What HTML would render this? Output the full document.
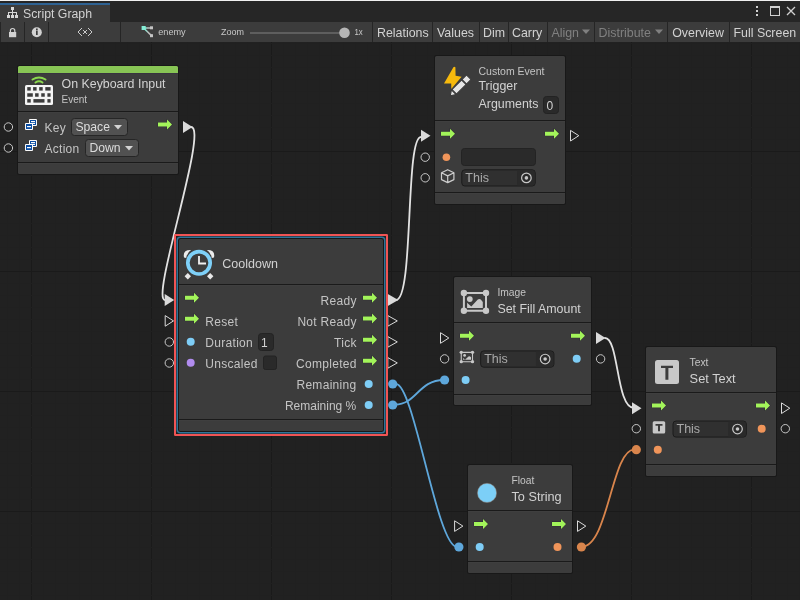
<!DOCTYPE html>
<html><head><meta charset="utf-8">
<style>
html,body{margin:0;padding:0;width:800px;height:600px;overflow:hidden;background:#202020;}
svg{display:block;position:absolute;left:0;top:0;}
text{font-family:"Liberation Sans",sans-serif;}
svg{will-change:transform;}
</style></head>
<body>
<svg width="800" height="600" viewBox="0 0 800 600">
<defs>
<pattern id="gmin" width="12" height="12" patternUnits="userSpaceOnUse" x="7" y="7">
<path d="M0 0.5H12M0.5 0V12" stroke="#1f1f1f" stroke-width="1" fill="none"/>
</pattern>
<pattern id="gmaj" width="120" height="120" patternUnits="userSpaceOnUse" x="31" y="31">
<path d="M0 0.5H120M0.5 0V120" stroke="#1a1a1a" stroke-width="1" fill="none"/>
</pattern>
</defs>
<rect x="0" y="42" width="800" height="558" fill="#212121"/>

<rect x="7" y="42" width="1" height="558" fill="#202020"/>
<rect x="19" y="42" width="1" height="558" fill="#202020"/>
<rect x="31" y="42" width="1" height="558" fill="#1a1a1a"/>
<rect x="43" y="42" width="1" height="558" fill="#202020"/>
<rect x="55" y="42" width="1" height="558" fill="#202020"/>
<rect x="67" y="42" width="1" height="558" fill="#202020"/>
<rect x="79" y="42" width="1" height="558" fill="#202020"/>
<rect x="91" y="42" width="1" height="558" fill="#202020"/>
<rect x="103" y="42" width="1" height="558" fill="#202020"/>
<rect x="115" y="42" width="1" height="558" fill="#202020"/>
<rect x="127" y="42" width="1" height="558" fill="#202020"/>
<rect x="139" y="42" width="1" height="558" fill="#202020"/>
<rect x="151" y="42" width="1" height="558" fill="#1a1a1a"/>
<rect x="163" y="42" width="1" height="558" fill="#202020"/>
<rect x="175" y="42" width="1" height="558" fill="#202020"/>
<rect x="187" y="42" width="1" height="558" fill="#202020"/>
<rect x="199" y="42" width="1" height="558" fill="#202020"/>
<rect x="211" y="42" width="1" height="558" fill="#202020"/>
<rect x="223" y="42" width="1" height="558" fill="#202020"/>
<rect x="235" y="42" width="1" height="558" fill="#202020"/>
<rect x="247" y="42" width="1" height="558" fill="#202020"/>
<rect x="259" y="42" width="1" height="558" fill="#202020"/>
<rect x="271" y="42" width="1" height="558" fill="#1a1a1a"/>
<rect x="283" y="42" width="1" height="558" fill="#202020"/>
<rect x="295" y="42" width="1" height="558" fill="#202020"/>
<rect x="307" y="42" width="1" height="558" fill="#202020"/>
<rect x="319" y="42" width="1" height="558" fill="#202020"/>
<rect x="331" y="42" width="1" height="558" fill="#202020"/>
<rect x="343" y="42" width="1" height="558" fill="#202020"/>
<rect x="355" y="42" width="1" height="558" fill="#202020"/>
<rect x="367" y="42" width="1" height="558" fill="#202020"/>
<rect x="379" y="42" width="1" height="558" fill="#202020"/>
<rect x="391" y="42" width="1" height="558" fill="#1a1a1a"/>
<rect x="403" y="42" width="1" height="558" fill="#202020"/>
<rect x="415" y="42" width="1" height="558" fill="#202020"/>
<rect x="427" y="42" width="1" height="558" fill="#202020"/>
<rect x="439" y="42" width="1" height="558" fill="#202020"/>
<rect x="451" y="42" width="1" height="558" fill="#202020"/>
<rect x="463" y="42" width="1" height="558" fill="#202020"/>
<rect x="475" y="42" width="1" height="558" fill="#202020"/>
<rect x="487" y="42" width="1" height="558" fill="#202020"/>
<rect x="499" y="42" width="1" height="558" fill="#202020"/>
<rect x="511" y="42" width="1" height="558" fill="#1a1a1a"/>
<rect x="523" y="42" width="1" height="558" fill="#202020"/>
<rect x="535" y="42" width="1" height="558" fill="#202020"/>
<rect x="547" y="42" width="1" height="558" fill="#202020"/>
<rect x="559" y="42" width="1" height="558" fill="#202020"/>
<rect x="571" y="42" width="1" height="558" fill="#202020"/>
<rect x="583" y="42" width="1" height="558" fill="#202020"/>
<rect x="595" y="42" width="1" height="558" fill="#202020"/>
<rect x="607" y="42" width="1" height="558" fill="#202020"/>
<rect x="619" y="42" width="1" height="558" fill="#202020"/>
<rect x="631" y="42" width="1" height="558" fill="#1a1a1a"/>
<rect x="643" y="42" width="1" height="558" fill="#202020"/>
<rect x="655" y="42" width="1" height="558" fill="#202020"/>
<rect x="667" y="42" width="1" height="558" fill="#202020"/>
<rect x="679" y="42" width="1" height="558" fill="#202020"/>
<rect x="691" y="42" width="1" height="558" fill="#202020"/>
<rect x="703" y="42" width="1" height="558" fill="#202020"/>
<rect x="715" y="42" width="1" height="558" fill="#202020"/>
<rect x="727" y="42" width="1" height="558" fill="#202020"/>
<rect x="739" y="42" width="1" height="558" fill="#202020"/>
<rect x="751" y="42" width="1" height="558" fill="#1a1a1a"/>
<rect x="763" y="42" width="1" height="558" fill="#202020"/>
<rect x="775" y="42" width="1" height="558" fill="#202020"/>
<rect x="787" y="42" width="1" height="558" fill="#202020"/>
<rect x="799" y="42" width="1" height="558" fill="#202020"/>
<rect x="0" y="43" width="800" height="1" fill="#202020"/>
<rect x="0" y="55" width="800" height="1" fill="#202020"/>
<rect x="0" y="67" width="800" height="1" fill="#202020"/>
<rect x="0" y="79" width="800" height="1" fill="#202020"/>
<rect x="0" y="91" width="800" height="1" fill="#202020"/>
<rect x="0" y="103" width="800" height="1" fill="#202020"/>
<rect x="0" y="115" width="800" height="1" fill="#202020"/>
<rect x="0" y="127" width="800" height="1" fill="#202020"/>
<rect x="0" y="139" width="800" height="1" fill="#202020"/>
<rect x="0" y="151" width="800" height="1" fill="#1a1a1a"/>
<rect x="0" y="163" width="800" height="1" fill="#202020"/>
<rect x="0" y="175" width="800" height="1" fill="#202020"/>
<rect x="0" y="187" width="800" height="1" fill="#202020"/>
<rect x="0" y="199" width="800" height="1" fill="#202020"/>
<rect x="0" y="211" width="800" height="1" fill="#202020"/>
<rect x="0" y="223" width="800" height="1" fill="#202020"/>
<rect x="0" y="235" width="800" height="1" fill="#202020"/>
<rect x="0" y="247" width="800" height="1" fill="#202020"/>
<rect x="0" y="259" width="800" height="1" fill="#202020"/>
<rect x="0" y="271" width="800" height="1" fill="#1a1a1a"/>
<rect x="0" y="283" width="800" height="1" fill="#202020"/>
<rect x="0" y="295" width="800" height="1" fill="#202020"/>
<rect x="0" y="307" width="800" height="1" fill="#202020"/>
<rect x="0" y="319" width="800" height="1" fill="#202020"/>
<rect x="0" y="331" width="800" height="1" fill="#202020"/>
<rect x="0" y="343" width="800" height="1" fill="#202020"/>
<rect x="0" y="355" width="800" height="1" fill="#202020"/>
<rect x="0" y="367" width="800" height="1" fill="#202020"/>
<rect x="0" y="379" width="800" height="1" fill="#202020"/>
<rect x="0" y="391" width="800" height="1" fill="#1a1a1a"/>
<rect x="0" y="403" width="800" height="1" fill="#202020"/>
<rect x="0" y="415" width="800" height="1" fill="#202020"/>
<rect x="0" y="427" width="800" height="1" fill="#202020"/>
<rect x="0" y="439" width="800" height="1" fill="#202020"/>
<rect x="0" y="451" width="800" height="1" fill="#202020"/>
<rect x="0" y="463" width="800" height="1" fill="#202020"/>
<rect x="0" y="475" width="800" height="1" fill="#202020"/>
<rect x="0" y="487" width="800" height="1" fill="#202020"/>
<rect x="0" y="499" width="800" height="1" fill="#202020"/>
<rect x="0" y="511" width="800" height="1" fill="#1a1a1a"/>
<rect x="0" y="523" width="800" height="1" fill="#202020"/>
<rect x="0" y="535" width="800" height="1" fill="#202020"/>
<rect x="0" y="547" width="800" height="1" fill="#202020"/>
<rect x="0" y="559" width="800" height="1" fill="#202020"/>
<rect x="0" y="571" width="800" height="1" fill="#202020"/>
<rect x="0" y="583" width="800" height="1" fill="#202020"/>
<rect x="0" y="595" width="800" height="1" fill="#202020"/>
<rect x="0" y="0" width="800" height="22" fill="#262626"/>
<rect x="0" y="0" width="800" height="1" fill="#f0f0f0"/>
<rect x="0" y="5" width="110" height="17" fill="#3c3c3c"/>
<rect x="0" y="3" width="110" height="2" fill="#2e6293"/>
<g fill="#d8d8d8"><rect x="11" y="7" width="3" height="3"/><rect x="12" y="10" width="1" height="3"/><rect x="8" y="12" width="9" height="1"/><rect x="8" y="12" width="1" height="3"/><rect x="12" y="12" width="1" height="3"/><rect x="16" y="12" width="1" height="3"/><rect x="7" y="15" width="3" height="3"/><rect x="11" y="15" width="3" height="3"/><rect x="15" y="15" width="3" height="3"/></g>
<text x="23" y="18" font-size="12.3" fill="#d2d2d2">Script Graph</text>
<g fill="#d0d0d0"><rect x="756" y="6" width="2" height="2"/><rect x="756" y="10" width="2" height="2"/><rect x="756" y="14" width="2" height="2"/></g>
<rect x="770.5" y="6.5" width="9" height="9" fill="none" stroke="#d0d0d0" stroke-width="1"/><rect x="770" y="6" width="10" height="2" fill="#d0d0d0"/>
<path d="M787 7L795 15M795 7L787 15" stroke="#d0d0d0" stroke-width="1.3"/>
<rect x="0" y="22" width="800" height="20" fill="#3c3c3c"/>
<rect x="0" y="22" width="1" height="20" fill="#252525"/>
<rect x="24" y="22" width="1" height="20" fill="#252525"/>
<rect x="48" y="22" width="1" height="20" fill="#252525"/>
<rect x="120" y="22" width="1" height="20" fill="#252525"/>
<rect x="372" y="22" width="1" height="20" fill="#252525"/>
<rect x="432" y="22" width="1" height="20" fill="#252525"/>
<rect x="479" y="22" width="1" height="20" fill="#252525"/>
<rect x="508" y="22" width="1" height="20" fill="#252525"/>
<rect x="547" y="22" width="1" height="20" fill="#252525"/>
<rect x="594" y="22" width="1" height="20" fill="#252525"/>
<rect x="667" y="22" width="1" height="20" fill="#252525"/>
<rect x="729" y="22" width="1" height="20" fill="#252525"/>
<path d="M10.4 32.5V30.7A2.2 2.2 0 0 1 14.8 30.7V32.5" fill="none" stroke="#d2d2d2" stroke-width="1.2"/><rect x="9" y="32" width="7.2" height="5.2" fill="#d2d2d2"/>
<circle cx="36.8" cy="32.3" r="5" fill="#d2d2d2"/><rect x="36" y="30.5" width="1.7" height="4.5" fill="#3c3c3c"/><rect x="36" y="28.5" width="1.7" height="1.5" fill="#3c3c3c"/>
<g fill="#cccccc"><rect x="81" y="28" width="1" height="1"/><rect x="80" y="29" width="1" height="1"/><rect x="79" y="30" width="1" height="1"/><rect x="78" y="31" width="1" height="1"/><rect x="78" y="32" width="1" height="1"/><rect x="79" y="33" width="1" height="1"/><rect x="80" y="34" width="1" height="1"/><rect x="81" y="35" width="1" height="1"/><rect x="88" y="28" width="1" height="1"/><rect x="89" y="29" width="1" height="1"/><rect x="90" y="30" width="1" height="1"/><rect x="91" y="31" width="1" height="1"/><rect x="91" y="32" width="1" height="1"/><rect x="90" y="33" width="1" height="1"/><rect x="89" y="34" width="1" height="1"/><rect x="88" y="35" width="1" height="1"/><rect x="83" y="30" width="1" height="1"/><rect x="86" y="30" width="1" height="1"/><rect x="83" y="33" width="1" height="1"/><rect x="86" y="33" width="1" height="1"/><rect x="84" y="31" width="2" height="2"/></g>
<defs><linearGradient id="eg" x1="0" y1="0" x2="1" y2="0"><stop offset="0.2" stop-color="#7fe6cf"/><stop offset="0.6" stop-color="#bdbdbd"/></linearGradient></defs><path d="M143.6 28H151.5M143.6 28L151.5 35.6" stroke="url(#eg)" stroke-width="1.5"/><rect x="150" y="26.3" width="3" height="3" fill="#c4c4c4"/><rect x="150" y="34.2" width="3" height="3" fill="#c4c4c4"/><rect x="141.6" y="26" width="4.1" height="4" fill="#85eed6"/>
<text x="158.2" y="34.7" font-size="9.5" fill="#c8c8c8" textLength="27.5" lengthAdjust="spacingAndGlyphs">enemy</text>
<text x="221" y="34.6" font-size="9.5" fill="#c8c8c8" textLength="23" lengthAdjust="spacingAndGlyphs">Zoom</text>
<rect x="250" y="32" width="94" height="2" fill="#5e5e5e"/><circle cx="344.5" cy="32.7" r="5.3" fill="#b5b5b5"/>
<text x="354.5" y="34.6" font-size="9.5" fill="#c8c8c8" textLength="8.3" lengthAdjust="spacingAndGlyphs">1x</text>
<text x="377" y="36.6" font-size="12.4" fill="#d2d2d2">Relations</text>
<text x="437" y="36.6" font-size="12.4" fill="#d2d2d2">Values</text>
<text x="483" y="36.6" font-size="12.4" fill="#d2d2d2">Dim</text>
<text x="512" y="36.6" font-size="12.4" fill="#d2d2d2">Carry</text>
<text x="551.4" y="36.6" font-size="12.4" fill="#808080">Align</text>
<text x="598.6" y="36.6" font-size="12.4" fill="#808080">Distribute</text>
<text x="672.2" y="36.6" font-size="12.4" fill="#d2d2d2">Overview</text>
<text x="733.5" y="36.6" font-size="12.4" fill="#d2d2d2">Full Screen</text>
<path d="M582 29.5H590L586 34Z" fill="#808080"/><path d="M655 29.5H663L659 34Z" fill="#808080"/>
<path d="M191 127C209 127 150 300 165 300" fill="none" stroke="#e2e2e2" stroke-width="1.8" stroke-linecap="round"/>
<path d="M396 300C414 300 405 137 421 137" fill="none" stroke="#e2e2e2" stroke-width="1.8" stroke-linecap="round"/>
<path d="M605 338C619 338 616 408 634 408" fill="none" stroke="#e2e2e2" stroke-width="1.8" stroke-linecap="round"/>
<path d="M396 384C414 384 437 547 457 547" fill="none" stroke="#5ea7db" stroke-width="1.8" stroke-linecap="round"/>
<path d="M395 404.5C417 404.5 418 380 444 380" fill="none" stroke="#5ea7db" stroke-width="1.8" stroke-linecap="round"/>
<path d="M582 546.6C608 546.6 612 449.6 634 449.6" fill="none" stroke="#d9854c" stroke-width="1.8" stroke-linecap="round"/>
<circle cx="392.7" cy="384" r="4.6" fill="#5ea7db"/>
<circle cx="392.7" cy="405" r="4.6" fill="#5ea7db"/>
<circle cx="444.6" cy="380" r="4.6" fill="#5ea7db"/>
<circle cx="458.9" cy="547" r="4.6" fill="#5ea7db"/>
<circle cx="581.4" cy="547" r="4.6" fill="#d9854c"/>
<circle cx="636.3" cy="449.7" r="4.6" fill="#d9854c"/>
<rect x="17" y="65" width="162" height="110" rx="2.5" fill="#181818"/>
<rect x="18" y="66" width="160" height="108" rx="1.5" fill="#3c3c3c"/>
<rect x="18" y="111" width="160" height="1" fill="#1a1a1a"/>
<rect x="18" y="112" width="160" height="1" fill="#3f3f3f"/>
<rect x="18" y="162" width="160" height="1" fill="#1a1a1a"/>
<rect x="18" y="163" width="160" height="1" fill="#3f3f3f"/>
<path d="M18 67.5A1.5 1.5 0 0 1 19.5 66H176.5A1.5 1.5 0 0 1 178 67.5V73H18Z" fill="#88c555"/><rect x="18" y="73" width="160" height="1" fill="#38343f"/>
<rect x="25" y="85" width="28" height="20" rx="1.5" fill="#f4f4f4"/>
<g fill="#3c3c3c">
<rect x="27.25" y="87.1" width="3.50" height="3.5"/>
<rect x="33.1" y="87.1" width="3.50" height="3.5"/>
<rect x="39.2" y="87.1" width="3.50" height="3.5"/>
<rect x="45.3" y="87.1" width="5.30" height="3.5"/>
<rect x="27.25" y="93.25" width="5.55" height="3.5"/>
<rect x="35.1" y="93.25" width="3.50" height="3.5"/>
<rect x="41.25" y="93.25" width="3.50" height="3.5"/>
<rect x="47.4" y="93.25" width="3.20" height="3.5"/>
<rect x="27.25" y="99.1" width="3.50" height="3.5"/>
<rect x="33.4" y="99.1" width="11.10" height="3.5"/>
<rect x="47.4" y="99.1" width="3.20" height="3.5"/>
</g>
<path d="M32.5 79.5Q39 75.5 45.5 79.5M35.5 82.5Q39 80.2 42.5 82.5" fill="none" stroke="#8bd84e" stroke-width="2" stroke-linecap="round"/>
<text x="61.5" y="88" font-size="12.4" fill="#d2d2d2">On Keyboard Input</text>
<text x="61.5" y="103" font-size="10" fill="#c4c4c4">Event</text>
<circle cx="8.4" cy="127" r="4.2" fill="none" stroke="#c8c8c8" stroke-width="1"/>
<g transform="translate(0,0)"><rect x="29" y="119" width="8" height="7" rx="1" fill="#fbfbfb"/><rect x="30" y="120" width="6" height="5" fill="#0b4ea4"/><rect x="31" y="121" width="4" height="1.2" fill="#fbfbfb"/><rect x="31" y="123" width="4" height="1" fill="#fbfbfb"/><rect x="25" y="123" width="8" height="7" rx="1" fill="#fbfbfb"/><rect x="26" y="124" width="6" height="5" fill="#0b4ea4"/><rect x="27" y="126" width="4" height="1.2" fill="#fbfbfb"/></g>
<circle cx="8.4" cy="148" r="4.2" fill="none" stroke="#c8c8c8" stroke-width="1"/>
<g transform="translate(0,21)"><rect x="29" y="119" width="8" height="7" rx="1" fill="#fbfbfb"/><rect x="30" y="120" width="6" height="5" fill="#0b4ea4"/><rect x="31" y="121" width="4" height="1.2" fill="#fbfbfb"/><rect x="31" y="123" width="4" height="1" fill="#fbfbfb"/><rect x="25" y="123" width="8" height="7" rx="1" fill="#fbfbfb"/><rect x="26" y="124" width="6" height="5" fill="#0b4ea4"/><rect x="27" y="126" width="4" height="1.2" fill="#fbfbfb"/></g>
<text x="44.4" y="132.3" font-size="12" fill="#c4c4c4" letter-spacing="0.3">Key</text>
<text x="44.4" y="152.8" font-size="12" fill="#c4c4c4" letter-spacing="0.3">Action</text>
<rect x="71.5" y="118.5" width="56" height="17" rx="3" fill="#515151" stroke="#262626" stroke-width="1"/>
<text x="75.4" y="131" font-size="12.2" fill="#dcdcdc">Space</text>
<path d="M114 125H122L118 129.6Z" fill="#d4d4d4"/>
<rect x="85.5" y="139.5" width="53" height="17" rx="3" fill="#515151" stroke="#262626" stroke-width="1"/>
<text x="89.4" y="152" font-size="12.2" fill="#dcdcdc">Down</text>
<path d="M125 146H133L129 150.6Z" fill="#d4d4d4"/>
<path d="M158 122.5H167V119.5L172 124.5L167 129.5V126.5H158Z" fill="#a3f45a" stroke="#262230" stroke-width="0.7" stroke-opacity="0.8" paint-order="stroke"/>
<path d="M183 121L192.5 127L183 133Z" fill="#dadada"/>
<rect x="434" y="55" width="132" height="150" rx="2.5" fill="#181818"/>
<rect x="435" y="56" width="130" height="148" rx="1.5" fill="#3c3c3c"/>
<rect x="435" y="120" width="130" height="1" fill="#1a1a1a"/>
<rect x="435" y="121" width="130" height="1" fill="#3f3f3f"/>
<rect x="435" y="192" width="130" height="1" fill="#1a1a1a"/>
<rect x="435" y="193" width="130" height="1" fill="#3f3f3f"/>
<path d="M453.4 67.2Q454.3 66.4 455.4 67.3L455.6 75.8L461.6 76.8L451.3 88.9L451.2 83.6L444 83.4Z" fill="#f6b90d"/>
<g transform="translate(459.6,86.4) rotate(-45)" fill="#e6e6e6" stroke="#3c3c3c" stroke-width="1.1"><path d="M-13.2 0L-8.2 -3.3V3.3Z"/><rect x="-7.6" y="-3.2" width="13.6" height="6.4"/><rect x="6.6" y="-3.2" width="6.4" height="6.4"/></g>
<text x="478.5" y="74.8" font-size="10.5" fill="#c4c4c4">Custom Event</text>
<text x="478.5" y="90.4" font-size="12.4" fill="#d2d2d2">Trigger</text>
<text x="478.5" y="107.8" font-size="12.4" fill="#d2d2d2">Arguments</text>
<rect x="543.5" y="96.5" width="15" height="17" rx="3" fill="#2a2a2a" stroke="#232323"/>
<text x="546.5" y="110" font-size="12" fill="#d2d2d2">0</text>
<path d="M441 131.7H450V128.7L455 133.7L450 138.7V135.7H441Z" fill="#a3f45a" stroke="#262230" stroke-width="0.7" stroke-opacity="0.8" paint-order="stroke"/>
<path d="M545 131.7H554V128.7L559 133.7L554 138.7V135.7H545Z" fill="#a3f45a" stroke="#262230" stroke-width="0.7" stroke-opacity="0.8" paint-order="stroke"/>
<path d="M421 129.7L430.5 135.7L421 141.7Z" fill="#dadada"/>
<path d="M570.5 130.39999999999998L578.8 135.7L570.5 141.0Z" fill="none" stroke="#dadada" stroke-width="1"/>
<circle cx="425.2" cy="157.2" r="4.2" fill="none" stroke="#c8c8c8" stroke-width="1"/>
<circle cx="425.2" cy="177.8" r="4.2" fill="none" stroke="#c8c8c8" stroke-width="1"/>
<circle cx="446.4" cy="157.2" r="3.8" fill="#f0955a"/>
<rect x="461.5" y="148.5" width="74" height="17" rx="3" fill="#2a2a2a" stroke="#232323"/>
<path d="M447.7 169.7L453.9 172.8V179.6L447.7 182.6L441.5 179.6V172.8Z M441.5 172.8L447.7 175.9L453.9 172.8 M447.7 175.9V182.6" fill="none" stroke="#cdcdcd" stroke-width="1.2" stroke-linejoin="round"/>
<rect x="461.8" y="169.8" width="73.40000000000003" height="16.19999999999999" rx="3" fill="#303030" stroke="#1b1b1b" stroke-width="1"/>
<path d="M517.1 170.3H532.7Q534.7 170.3 534.7 172.3V183.5Q534.7 185.5 532.7 185.5H517.1Z" fill="#2a2a2a"/>
<text x="465.3" y="181.5" font-size="12.5" fill="#a9a9a9">This</text>
<circle cx="526.4000000000001" cy="177.9" r="4.8" fill="none" stroke="#c8c8c8" stroke-width="1.2"/>
<circle cx="526.4000000000001" cy="177.9" r="1.8" fill="#c8c8c8"/>
<rect x="178" y="238" width="206" height="194" rx="2.5" fill="#181818"/>
<rect x="179" y="239" width="204" height="192" rx="1.5" fill="#3c3c3c"/>
<rect x="179" y="284" width="204" height="1" fill="#1a1a1a"/>
<rect x="179" y="285" width="204" height="1" fill="#3f3f3f"/>
<rect x="179" y="419" width="204" height="1" fill="#1a1a1a"/>
<rect x="179" y="420" width="204" height="1" fill="#3f3f3f"/>
<circle cx="199" cy="262.8" r="11.2" fill="none" stroke="#7ed0f8" stroke-width="3.7"/>
<path d="M199 256V263.5H206" fill="none" stroke="#f0f0f0" stroke-width="1.8"/>
<path d="M184 257.6Q182.4 249.8 191.1 250.1Q187 252.6 186.2 258Z" fill="#ececec"/>
<path d="M214 257.6Q215.6 249.8 206.9 250.1Q211 252.6 211.8 258Z" fill="#ececec"/>
<path d="M187.8 273L191 276.2L187.8 279.4L184.6 276.2Z" fill="#e8e8e8"/>
<path d="M210.2 273L213.4 276.2L210.2 279.4L207 276.2Z" fill="#e8e8e8"/>
<text x="222.3" y="268" font-size="12.5" fill="#d2d2d2">Cooldown</text>
<path d="M185 295.7H194V292.7L199 297.7L194 302.7V299.7H185Z" fill="#a3f45a" stroke="#262230" stroke-width="0.7" stroke-opacity="0.8" paint-order="stroke"/>
<path d="M185 316.7H194V313.7L199 318.7L194 323.7V320.7H185Z" fill="#a3f45a" stroke="#262230" stroke-width="0.7" stroke-opacity="0.8" paint-order="stroke"/>
<text x="205.3" y="325.8" font-size="12" fill="#c4c4c4" letter-spacing="0.3">Reset</text>
<circle cx="190.7" cy="341.7" r="4" fill="#7ecdf6"/>
<text x="205.3" y="346.7" font-size="12" fill="#c4c4c4" letter-spacing="0.3">Duration</text>
<rect x="258.5" y="333.5" width="15" height="17" rx="3" fill="#2a2a2a" stroke="#232323"/>
<text x="261" y="347" font-size="12" fill="#d2d2d2">1</text>
<circle cx="190.7" cy="362.7" r="4" fill="#b18cef"/>
<text x="205.3" y="367.5" font-size="12" fill="#c4c4c4" letter-spacing="0.3">Unscaled</text>
<rect x="263.5" y="356" width="13" height="13.5" rx="2" fill="#2a2a2a" stroke="#232323"/>
<text x="356.8" y="305.4" font-size="12" fill="#c4c4c4" text-anchor="end" letter-spacing="0.3">Ready</text>
<path d="M363 295.7H372V292.7L377 297.7L372 302.7V299.7H363Z" fill="#a3f45a" stroke="#262230" stroke-width="0.7" stroke-opacity="0.8" paint-order="stroke"/>
<text x="356.8" y="326.2" font-size="12" fill="#c4c4c4" text-anchor="end" letter-spacing="0.3">Not Ready</text>
<path d="M363 316.5H372V313.5L377 318.5L372 323.5V320.5H363Z" fill="#a3f45a" stroke="#262230" stroke-width="0.7" stroke-opacity="0.8" paint-order="stroke"/>
<text x="356.8" y="347.4" font-size="12" fill="#c4c4c4" text-anchor="end" letter-spacing="0.3">Tick</text>
<path d="M363 337.7H372V334.7L377 339.7L372 344.7V341.7H363Z" fill="#a3f45a" stroke="#262230" stroke-width="0.7" stroke-opacity="0.8" paint-order="stroke"/>
<text x="356.8" y="368.4" font-size="12" fill="#c4c4c4" text-anchor="end" letter-spacing="0.3">Completed</text>
<path d="M363 358.7H372V355.7L377 360.7L372 365.7V362.7H363Z" fill="#a3f45a" stroke="#262230" stroke-width="0.7" stroke-opacity="0.8" paint-order="stroke"/>
<text x="356.5" y="388.7" font-size="12" fill="#c4c4c4" text-anchor="end" letter-spacing="0.3">Remaining</text>
<text x="356.3" y="409.5" font-size="12" fill="#c4c4c4" text-anchor="end">Remaining %</text>
<circle cx="368.7" cy="384" r="4" fill="#7ecdf6"/>
<circle cx="368.7" cy="405" r="4" fill="#7ecdf6"/>
<path d="M164.7 294L174.2 300L164.7 306Z" fill="#dadada"/>
<path d="M165.2 315.59999999999997L173.5 320.9L165.2 326.2Z" fill="none" stroke="#dadada" stroke-width="1"/>
<circle cx="169.3" cy="342" r="4.2" fill="none" stroke="#c8c8c8" stroke-width="1"/>
<circle cx="169.3" cy="363" r="4.2" fill="none" stroke="#c8c8c8" stroke-width="1"/>
<path d="M387.8 294L398.3 300L387.8 306Z" fill="#dadada"/>
<path d="M387.8 315.59999999999997L397.3 320.9L387.8 326.2Z" fill="none" stroke="#dadada" stroke-width="1"/>
<path d="M387.8 336.59999999999997L397.3 341.9L387.8 347.2Z" fill="none" stroke="#dadada" stroke-width="1"/>
<path d="M387.8 357.59999999999997L397.3 362.9L387.8 368.2Z" fill="none" stroke="#dadada" stroke-width="1"/>
<rect x="175" y="235" width="212" height="200" rx="0.3" fill="none" stroke="#f05454" stroke-width="2"/>
<rect x="177.25" y="237.25" width="207.5" height="195.5" rx="3" fill="none" stroke="#2f7499" stroke-width="1.5"/>
<rect x="453" y="276" width="139" height="130" rx="2.5" fill="#181818"/>
<rect x="454" y="277" width="137" height="128" rx="1.5" fill="#3c3c3c"/>
<rect x="454" y="322" width="137" height="1" fill="#1a1a1a"/>
<rect x="454" y="323" width="137" height="1" fill="#3f3f3f"/>
<rect x="454" y="394" width="137" height="1" fill="#1a1a1a"/>
<rect x="454" y="395" width="137" height="1" fill="#3f3f3f"/>
<g fill="#c8c8c8"><path d="M463.9 292.9H486V310.8H463.9Z" fill="none" stroke="#c8c8c8" stroke-width="2"/><circle cx="463.9" cy="292.9" r="3.2"/><circle cx="486" cy="292.9" r="3.2"/><circle cx="463.9" cy="310.8" r="3.2"/><circle cx="486" cy="310.8" r="3.2"/><circle cx="469.8" cy="299.1" r="2.9"/><path d="M467.1 302.8L471.3 306.5L477.8 299.6Q479.3 298.2 480.8 299.6L482.8 302V307.9H467.1Z"/></g>
<text x="497.4" y="296" font-size="10.3" fill="#c4c4c4">Image</text>
<text x="497.4" y="313" font-size="12.4" fill="#d2d2d2">Set Fill Amount</text>
<path d="M460 333.7H469V330.7L474 335.7L469 340.7V337.7H460Z" fill="#a3f45a" stroke="#262230" stroke-width="0.7" stroke-opacity="0.8" paint-order="stroke"/>
<path d="M571 333.7H580V330.7L585 335.7L580 340.7V337.7H571Z" fill="#a3f45a" stroke="#262230" stroke-width="0.7" stroke-opacity="0.8" paint-order="stroke"/>
<path d="M440.5 332.7L448.8 338L440.5 343.3Z" fill="none" stroke="#dadada" stroke-width="1"/>
<path d="M596 332L605.5 338L596 344Z" fill="#dadada"/>
<circle cx="444.6" cy="358.9" r="4.2" fill="none" stroke="#c8c8c8" stroke-width="1"/>
<circle cx="600.6" cy="358.9" r="4.2" fill="none" stroke="#c8c8c8" stroke-width="1"/>
<g fill="#c8c8c8"><path d="M461.25 352.35H472.5V361.7H461.25Z" fill="none" stroke="#c8c8c8" stroke-width="1.1"/><circle cx="461.25" cy="352.35" r="1.65"/><circle cx="472.5" cy="352.35" r="1.65"/><circle cx="461.25" cy="361.7" r="1.65"/><circle cx="472.5" cy="361.7" r="1.65"/><circle cx="464.6" cy="355.4" r="1.4"/><path d="M463.1 358L465 359.7L468.5 356.5Q469.2 355.9 470 356.5L471 357.3V359.7H463.1Z"/></g>
<rect x="480.7" y="350.9" width="73.19999999999999" height="16.30000000000001" rx="3" fill="#303030" stroke="#1b1b1b" stroke-width="1"/>
<path d="M535.9 351.4H551.4Q553.4 351.4 553.4 353.4V364.7Q553.4 366.7 551.4 366.7H535.9Z" fill="#2a2a2a"/>
<text x="484.2" y="362.7" font-size="12.5" fill="#a9a9a9">This</text>
<circle cx="545.15" cy="359.04999999999995" r="4.8" fill="none" stroke="#c8c8c8" stroke-width="1.2"/>
<circle cx="545.15" cy="359.04999999999995" r="1.8" fill="#c8c8c8"/>
<circle cx="576.7" cy="358.7" r="4" fill="#7ecdf6"/>
<circle cx="465.6" cy="380" r="4" fill="#7ecdf6"/>
<rect x="645" y="346" width="132" height="131" rx="2.5" fill="#181818"/>
<rect x="646" y="347" width="130" height="129" rx="1.5" fill="#3c3c3c"/>
<rect x="646" y="392" width="130" height="1" fill="#1a1a1a"/>
<rect x="646" y="393" width="130" height="1" fill="#3f3f3f"/>
<rect x="646" y="464" width="130" height="1" fill="#1a1a1a"/>
<rect x="646" y="465" width="130" height="1" fill="#3f3f3f"/>
<rect x="655" y="360" width="24" height="24" rx="2.5" fill="#c8c8c8"/>
<path d="M661 365.8H673V368H668.4V379.8H665.4V368H661Z" fill="#3c3c3c"/>
<text x="689.6" y="365.8" font-size="10.3" fill="#c4c4c4">Text</text>
<text x="689.6" y="383.2" font-size="12.8" fill="#d2d2d2">Set Text</text>
<path d="M652 403.6H661V400.6L666 405.6L661 410.6V407.6H652Z" fill="#a3f45a" stroke="#262230" stroke-width="0.7" stroke-opacity="0.8" paint-order="stroke"/>
<path d="M756 403.6H765V400.6L770 405.6L765 410.6V407.6H756Z" fill="#a3f45a" stroke="#262230" stroke-width="0.7" stroke-opacity="0.8" paint-order="stroke"/>
<path d="M632 402.2L641.5 408.2L632 414.2Z" fill="#dadada"/>
<path d="M781.5 402.9L789.8 408.2L781.5 413.5Z" fill="none" stroke="#dadada" stroke-width="1"/>
<circle cx="636.3" cy="428.7" r="4.2" fill="none" stroke="#c8c8c8" stroke-width="1"/>
<circle cx="785.3" cy="428.7" r="4.2" fill="none" stroke="#c8c8c8" stroke-width="1"/>
<rect x="652.7" y="421.3" width="12.5" height="12.2" rx="1.5" fill="#c8c8c8"/><path d="M655.5 424H662.5V425.8H660V431.3H658V425.8H655.5Z" fill="#3c3c3c"/>
<rect x="673.0" y="421.0" width="73.29999999999995" height="16.100000000000023" rx="3" fill="#303030" stroke="#1b1b1b" stroke-width="1"/>
<path d="M728.2 421.5H743.8Q745.8 421.5 745.8 423.5V434.6Q745.8 436.6 743.8 436.6H728.2Z" fill="#2a2a2a"/>
<text x="676.5" y="432.6" font-size="12.5" fill="#a9a9a9">This</text>
<circle cx="737.5" cy="429.05" r="4.8" fill="none" stroke="#c8c8c8" stroke-width="1.2"/>
<circle cx="737.5" cy="429.05" r="1.8" fill="#c8c8c8"/>
<circle cx="761.7" cy="428.7" r="4" fill="#f0955a"/>
<circle cx="657.8" cy="449.7" r="4" fill="#f0955a"/>
<rect x="467" y="464" width="106" height="110" rx="2.5" fill="#181818"/>
<rect x="468" y="465" width="104" height="108" rx="1.5" fill="#3c3c3c"/>
<rect x="468" y="510" width="104" height="1" fill="#1a1a1a"/>
<rect x="468" y="511" width="104" height="1" fill="#3f3f3f"/>
<rect x="468" y="561" width="104" height="1" fill="#1a1a1a"/>
<rect x="468" y="562" width="104" height="1" fill="#3f3f3f"/>
<circle cx="487" cy="492.9" r="9.6" fill="#7ccff7" stroke="#8a7a70" stroke-width="0.5"/>
<text x="511.5" y="484.3" font-size="10.3" fill="#c4c4c4">Float</text>
<text x="511.5" y="501" font-size="12.7" fill="#d2d2d2">To String</text>
<path d="M474 521.9H483V518.9L488 523.9L483 528.9V525.9H474Z" fill="#a3f45a" stroke="#262230" stroke-width="0.7" stroke-opacity="0.8" paint-order="stroke"/>
<path d="M552 521.9H561V518.9L566 523.9L561 528.9V525.9H552Z" fill="#a3f45a" stroke="#262230" stroke-width="0.7" stroke-opacity="0.8" paint-order="stroke"/>
<path d="M454.6 520.8000000000001L462.90000000000003 526.1L454.6 531.4Z" fill="none" stroke="#dadada" stroke-width="1"/>
<path d="M577.5 520.8000000000001L585.8 526.1L577.5 531.4Z" fill="none" stroke="#dadada" stroke-width="1"/>
<circle cx="479.7" cy="547" r="4" fill="#7ecdf6"/>
<circle cx="557.5" cy="547" r="4" fill="#f0955a"/>
</svg></body></html>
